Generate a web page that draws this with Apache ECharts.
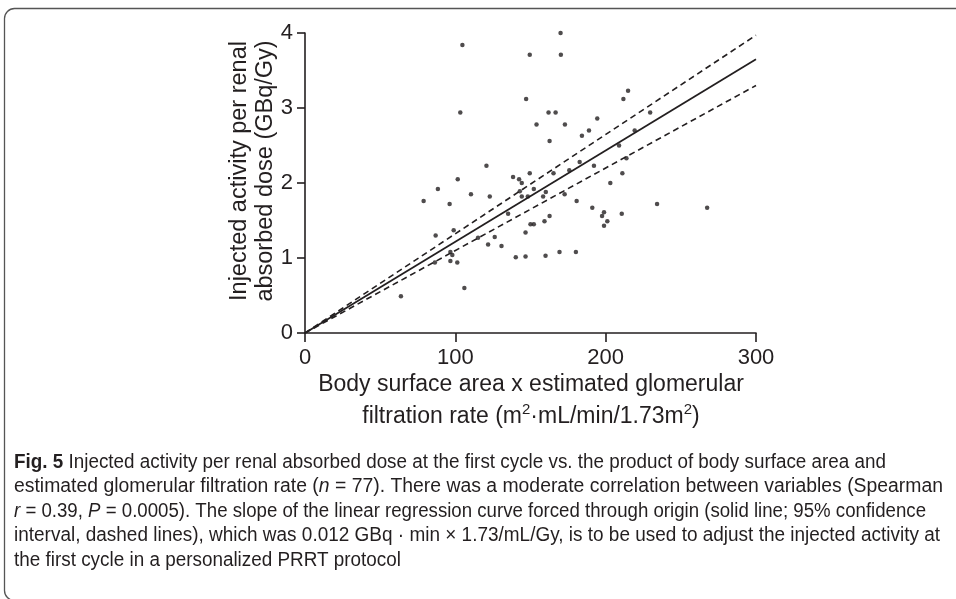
<!DOCTYPE html>
<html><head><meta charset="utf-8">
<script src="https://cdn.jsdelivr.net/npm/echarts@6.0.0/dist/echarts.min.js"></script>
<style>html,body{margin:0;padding:0;background:#fff;}#c{width:956px;height:599px;}</style>
</head><body><div id="c"></div>
<script>
// ---- data ----
const xTickValues = [0, 100, 200, 300];
const yTickValues = [0, 1, 2, 3, 4];
const pointsX = [104.7,170,149.5,170.2,147.1,103.3,162,166.7,194.4,154,172.9,188.9,184.2,162.7,120.7,192.2,182.7,175.8,149.5,165.3,138.4,101.6,142.4,214.9,211.8,229.6,219.3,208.9,213.8,211.1,88.4,78.9,96.2,86.9,86.4,96.7,63.8,144.2,110.4,122.9,144.2,148.2,152.2,160.2,158.4,142.9,172.7,180.7,191.1,135.1,98.9,115.1,126.2,121.8,130.7,98,101.3,106,146.7,150,152.2,159.3,162.7,140.2,146.7,160,169.3,180.2,203.1,234.2,267.5,198.9,210.7,197.6,201.1,198.9,96.7];
const pointsY = [3.84,4.0,3.71,3.71,3.12,2.94,2.94,2.94,2.86,2.78,2.78,2.70,2.63,2.56,2.23,2.23,2.28,2.17,2.13,2.13,2.08,2.05,2.05,3.23,3.12,2.94,2.70,2.50,2.33,2.13,1.92,1.76,1.72,1.30,0.94,0.96,0.49,2.00,1.85,1.82,1.82,1.82,1.92,1.88,1.82,1.89,1.85,1.76,1.67,1.59,1.37,1.27,1.28,1.18,1.16,1.04,0.94,0.60,1.34,1.45,1.45,1.49,1.56,1.01,1.02,1.03,1.08,1.08,2.00,1.72,1.67,1.61,1.59,1.56,1.49,1.43,1.08];
const fitLine = [[0, 0], [300, 3.65]];
const upperCI = [[0, 0], [300, 3.97]];
const lowerCI = [[0, 0], [300, 3.30]];
const xTitleLine1 = 'Body surface area x estimated glomerular';
const xTitleLine2 = ['filtration rate (m', '2', '\u00B7mL/min/1.73m', '2', ')'];
const yTitle = 'Injected activity per renal\nabsorbed dose (GBq/Gy)';
const captionLines = [
  [['b','Fig. 5'],['n',' Injected activity per renal absorbed dose at the first cycle vs. the product of body surface area and']],
  [['n','estimated glomerular filtration rate ('],['i','n'],['n',' = 77). There was a moderate correlation between variables (Spearman']],
  [['i','r'],['n',' = 0.39, '],['i','P'],['n',' = 0.0005). The slope of the linear regression curve forced through origin (solid line; 95% confidence']],
  [['n','interval, dashed lines), which was 0.012 GBq \u00B7 min \u00D7 1.73/mL/Gy, is to be used to adjust the injected activity at']],
  [['n','the first cycle in a personalized PRRT protocol']]
];
const captionRight = [886, 943, 926, 940, 401];

// ---- build ----
const scatterData = pointsX.map((x, i) => [x, pointsY[i]]);
const capFam = '"Liberation Sans Narrow", "Liberation Sans", Arial, sans-serif';
const capSize = 20;
const ink = '#231f20';
const cv = document.createElement('canvas').getContext('2d');
function fontFor(k){ return (k==='i'?'italic ':'') + (k==='b'?'bold ':'') + capSize + 'px ' + capFam; }
const captionEls = captionLines.map((segs, li) => {
  let w = 0;
  segs.forEach(s => { cv.font = fontFor(s[0]); w += cv.measureText(s[1]).width; });
  const text = segs.map(s => '{' + s[0] + '|' + s[1].replace(/[{}|]/g,'') + '}').join('');
  const left = 14;
  return {
    type: 'text', x: left, y: 462 + li * 24.6, scaleX: (captionRight[li] - left) / w,
    style: {
      text: text, textAlign: 'left', textVerticalAlign: 'middle', fill: ink,
      rich: {
        n: {fontSize: capSize, fontFamily: capFam, fill: ink},
        b: {fontSize: capSize, fontFamily: capFam, fontWeight: 'bold', fill: ink},
        i: {fontSize: capSize, fontFamily: capFam, fontStyle: 'italic', fill: ink}
      }
    }
  };
});

const axFont = '"Liberation Sans", Arial, Helvetica, sans-serif';
const line2Rich = xTitleLine2.map((t, i) => i % 2 ? '{s|' + t + '}' : '{m|' + t + '}').join('');
const chart = echarts.init(document.getElementById('c'), null, {renderer: 'canvas'});
chart.setOption({
  animation: false,
  backgroundColor: '#fff',
  grid: {left: 305, top: 33, width: 451, height: 300, containLabel: false},
  xAxis: {
    type: 'value', min: xTickValues[0], max: xTickValues[xTickValues.length-1], interval: 100,
    splitLine: {show: false},
    axisLine: {show: true, onZero: false, lineStyle: {color: ink, width: 1.6}},
    axisTick: {show: true, length: 9, lineStyle: {color: ink, width: 1.6}},
    axisLabel: {margin: 14, color: ink, fontSize: 22, fontFamily: axFont}
  },
  yAxis: {
    type: 'value', min: yTickValues[0], max: yTickValues[yTickValues.length-1], interval: 1,
    splitLine: {show: false},
    axisLine: {show: true, onZero: false, lineStyle: {color: ink, width: 1.6}},
    axisTick: {show: true, length: 8, lineStyle: {color: ink, width: 1.6}},
    axisLabel: {margin: 12, color: ink, fontSize: 22, fontFamily: axFont}
  },
  series: [
    {type: 'line', data: upperCI, showSymbol: false, symbol: 'none', lineStyle: {color: ink, width: 1.6, type: [6, 4]}, z: 2},
    {type: 'line', data: lowerCI, showSymbol: false, symbol: 'none', lineStyle: {color: ink, width: 1.6, type: [6, 4]}, z: 2},
    {type: 'line', data: fitLine, showSymbol: false, symbol: 'none', lineStyle: {color: ink, width: 1.8}, z: 3},
    {type: 'scatter', data: scatterData, symbol: 'circle', symbolSize: 4.5, itemStyle: {color: ink}, z: 4}
  ],
  graphic: [
    {type: 'rect', shape: {x: 4.5, y: 8.5, width: 1000, height: 592, r: 10}, style: {fill: 'none', stroke: '#555', lineWidth: 1.3}, silent: true},
    {type: 'text', x: 531, y: 385, style: {text: xTitleLine1, textAlign: 'center', textVerticalAlign: 'middle', fontSize: 23, fontFamily: axFont, fill: ink}},
    {type: 'text', x: 531, y: 414, style: {text: line2Rich, textAlign: 'center', textVerticalAlign: 'middle', fill: ink,
      rich: {
        m: {fontSize: 23, fontFamily: axFont, fill: ink, lineHeight: 28, verticalAlign: 'bottom'},
        s: {fontSize: 15, fontFamily: axFont, fill: ink, lineHeight: 28, verticalAlign: 'bottom', padding: [0, 0, 11, 0]}
      }}},
    {type: 'text', x: 253, y: 171, rotation: Math.PI/2, style: {text: yTitle, textAlign: 'center', textVerticalAlign: 'middle', fontSize: 23.5, lineHeight: 26, fontFamily: axFont, fill: ink}}
  ].concat(captionEls)
});
</script>
</body></html>
